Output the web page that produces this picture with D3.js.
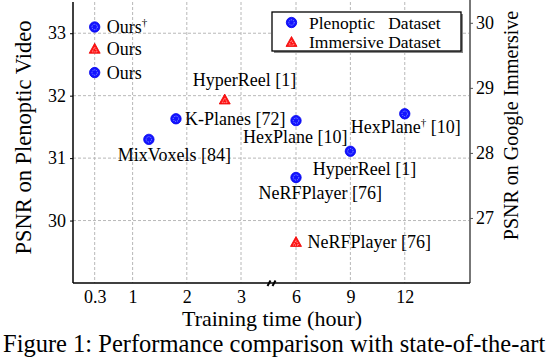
<!DOCTYPE html>
<html><head><meta charset="utf-8">
<script src="https://cdn.jsdelivr.net/npm/d3@7"></script>
<style>
html,body{margin:0;padding:0;background:#fff;}
svg{display:block;}
svg text{font-family:"Liberation Serif","DejaVu Serif","Noto Serif",serif;}
</style></head>
<body><svg id="c" width="552" height="358"></svg>
<script>
// ---- data ----
const xTicks = [0.3, 1, 2, 3, 6, 9, 12];
const xTickLabels = ["0.3", "1", "2", "3", "6", "9", "12"];
const leftTicks = [30, 31, 32, 33];
const rightTicks = [27, 28, 29, 30];

const plenNames = ["Ours†", "Ours", "K-Planes [72]", "MixVoxels [84]", "HexPlane [10]", "HexPlane† [10]", "HyperReel [1]", "NeRFPlayer [76]"];
const plenTime  = [0.3, 0.3, 1.8, 1.3, 6, 12, 9, 6];
const plenPSNR  = [33.1, 32.37, 31.63, 31.3, 31.6, 31.71, 31.11, 30.69];

const immNames = ["Ours", "HyperReel [1]", "NeRFPlayer [76]"];
const immTime  = [0.3, 2.7, 6];
const immPSNR  = [29.6, 28.82, 26.63];

// label placement (pixels relative to marker)
const plenLabelOffset = [[12,6],[12,6],[9,6],[-31,22],[-53,22],[-54,19.5],[-37.6,24],[-37.4,22]];
const immLabelOffset  = [[12,6],[-32,-14],[11.6,6]];

// ---- layout ----
const FONT = '"Liberation Serif","DejaVu Serif","Noto Serif",serif';
const svg = d3.select("#c");
const L = 73, R = 470, T = 2, B = 283;
const x = d3.scaleLinear().domain([-0.1, 3, 6, 15.6]).range([L, 241, 296, R]);
const yL = d3.scaleLinear().domain([29, 33.5]).range([B, T]);
const yR = d3.scaleLinear().domain([26, 30.32]).range([B, T]);
const BLUE = "#1414ff", RED = "#ff1414";

// grid
const g = svg.append("g");
g.selectAll(".vg").data(xTicks).join("line")
  .attr("x1", d => x(d)).attr("x2", d => x(d)).attr("y1", T).attr("y2", B)
  .attr("stroke", "#b8b8b8").attr("stroke-width", 1).attr("stroke-dasharray", "3,2");
g.selectAll(".hg").data(leftTicks).join("line")
  .attr("x1", L).attr("x2", R).attr("y1", d => yL(d)).attr("y2", d => yL(d))
  .attr("stroke", "#b8b8b8").attr("stroke-width", 1).attr("stroke-dasharray", "3,2");

// axes
const axL = svg.append("g").attr("transform", `translate(${L},0)`)
  .call(d3.axisLeft(yL).tickValues(leftTicks).tickSize(3).tickPadding(4).tickFormat(d3.format("d")));
axL.attr("font-family", FONT);
axL.select(".domain").attr("stroke", "#000").attr("stroke-width", 1.5).attr("d", `M0,${T}V${B}`);
axL.selectAll("text").attr("font-size", 18).attr("fill", "#000");

const axR = svg.append("g").attr("transform", `translate(${R},0)`)
  .call(d3.axisRight(yR).tickValues(rightTicks).tickSize(3).tickPadding(3).tickFormat(d3.format("d")));
axR.attr("font-family", FONT);
axR.select(".domain").attr("stroke", "#777").attr("stroke-width", 2).attr("d", `M0,${0}V${B}`);
axR.selectAll(".tick line").attr("stroke", "#555");
axR.selectAll("text").attr("font-size", 18).attr("fill", "#000");

const axB = svg.append("g").attr("transform", `translate(0,${B})`)
  .call(d3.axisBottom(x).tickValues(xTicks).tickSize(0).tickPadding(7).tickFormat((d, i) => xTickLabels[i]));
axB.attr("font-family", FONT);
axB.select(".domain").attr("stroke", "#000").attr("stroke-width", 1.5).attr("d", `M${L},0H${R}`);
axB.selectAll("text").attr("font-size", 18).attr("fill", "#000");

// axis break marks
const bx = (x(3) + x(6)) / 2 + 3;
[-2.5, 2.5].forEach(o => {
  svg.append("line").attr("x1", bx + o - 1.5).attr("y1", B + 3).attr("x2", bx + o + 1.5).attr("y2", B - 2.5)
    .attr("stroke", "#000").attr("stroke-width", 2);
});

// axis titles
svg.append("text").attr("transform", `translate(31,${(T + B) / 2 - 5}) rotate(-90)`)
  .attr("text-anchor", "middle").attr("font-size", 22.5).text("PSNR on Plenoptic Video");
svg.append("text").attr("transform", `translate(518,${(T + B) / 2 - 17}) rotate(-90)`)
  .attr("text-anchor", "middle").attr("font-size", 20).text("PSNR on Google Immersive");
svg.append("text").attr("x", 272).attr("y", 326).attr("text-anchor", "middle")
  .attr("font-size", 22).text("Training time (hour)");
svg.append("text").attr("x", 3).attr("y", 352).attr("font-size", 24.5)
  .text("Figure 1: Performance comparison with state-of-the-art");

// markers
function circleMarker(sel, cx, cy) {
  sel.append("circle").attr("cx", cx).attr("cy", cy).attr("r", 5.2).attr("fill", BLUE).attr("stroke", "#0000ee").attr("stroke-width", 0.8);
  sel.append("circle").attr("cx", cx).attr("cy", cy).attr("r", 2.7).attr("fill", "none")
    .attr("stroke", "#9ab0ff").attr("stroke-width", 0.9).attr("stroke-dasharray", "1,1");
}
function triMarker(sel, cx, cy) {
  const s = 5.5;
  sel.append("path").attr("d", `M${cx},${cy - s}L${cx + s},${cy + s * 0.8}L${cx - s},${cy + s * 0.8}Z`)
    .attr("fill", RED).attr("stroke", "#ee0000").attr("stroke-width", 0.8);
  const t = 2.6;
  sel.append("path").attr("d", `M${cx},${cy - t + 1}L${cx + t},${cy + t * 0.8 + 1}L${cx - t},${cy + t * 0.8 + 1}Z`)
    .attr("fill", "none").attr("stroke", "#ffc0c0").attr("stroke-width", 0.9).attr("stroke-dasharray", "1,1");
}
function label(sel, px, py, name, off) {
  const t = sel.append("text").attr("x", px + off[0]).attr("y", py + off[1]).attr("font-size", 18).attr("fill", "#000");
  const parts = name.split("†");
  t.append("tspan").text(parts[0]);
  if (parts.length > 1) {
    t.append("tspan").attr("font-size", 11).attr("dy", -7).text("†");
    t.append("tspan").attr("dy", 7).text(parts[1]);
  }
}

const pts = svg.append("g");
plenNames.forEach((n, i) => {
  const px = x(plenTime[i]), py = yL(plenPSNR[i]);
  circleMarker(pts, px, py);
  label(pts, px, py, n, plenLabelOffset[i]);
});
immNames.forEach((n, i) => {
  const px = x(immTime[i]), py = yR(immPSNR[i]);
  triMarker(pts, px, py);
  label(pts, px, py, n, immLabelOffset[i]);
});

// legend
const lg = svg.append("g");
lg.append("rect").attr("x", 274).attr("y", 14).attr("width", 189).attr("height", 39).attr("fill", "#888");
lg.append("rect").attr("x", 272).attr("y", 12).attr("width", 189).attr("height", 39)
  .attr("fill", "#fff").attr("stroke", "#000").attr("stroke-width", 1.3);
circleMarker(lg, 291.5, 22.5);
triMarker(lg, 291.5, 42);
lg.append("text").attr("x", 309).attr("y", 28.5).attr("font-size", 17.5).attr("xml:space", "preserve").text("Plenoptic   Dataset");
lg.append("text").attr("x", 309).attr("y", 47.5).attr("font-size", 17.5).text("Immersive Dataset");
</script></body></html>
